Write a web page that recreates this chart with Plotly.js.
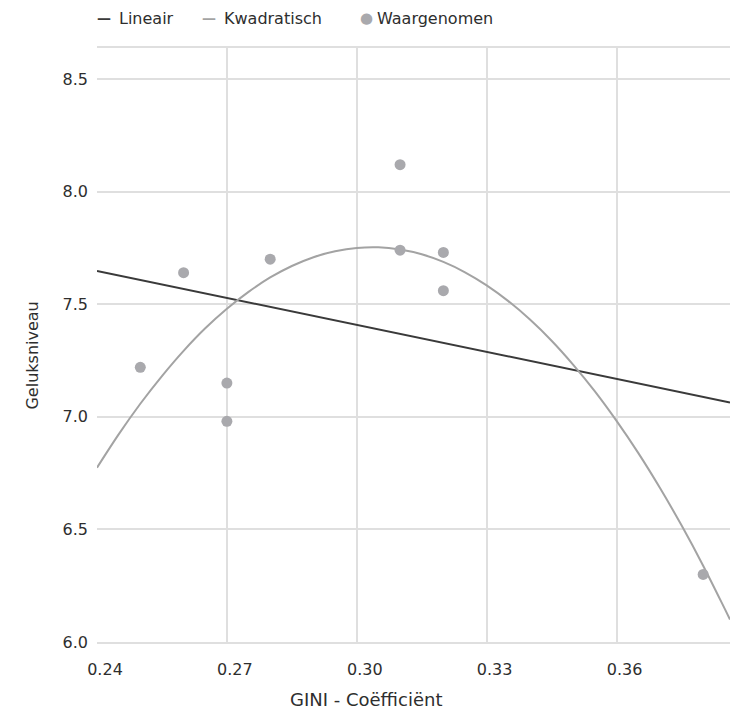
<!DOCTYPE html>
<html>
<head>
<meta charset="utf-8">
<script src="https://cdn.plot.ly/plotly-3.0.1.min.js"></script>
<style>html,body{margin:0;padding:0;background:#fff;}#chart{width:730px;height:709px;}</style>
</head>
<body>
<div id="chart"></div>
<script>
// Observed points
const giniObserved = [0.25, 0.26, 0.27, 0.27, 0.28, 0.31, 0.31, 0.32, 0.32, 0.38];
const happinessObserved = [7.22, 7.64, 7.15, 6.98, 7.70, 8.12, 7.74, 7.73, 7.56, 6.30];

// Linear trend line (read at the plot edges)
const linearX = [0.24, 0.3862];
const linearY = [7.648, 7.064];

// Quadratic trend curve
const quadX = [0.240, 0.245, 0.250, 0.255, 0.260, 0.265, 0.270, 0.275, 0.280, 0.285,
               0.290, 0.295, 0.300, 0.305, 0.310, 0.315, 0.320, 0.325, 0.330, 0.335,
               0.340, 0.345, 0.350, 0.355, 0.360, 0.365, 0.370, 0.375, 0.380, 0.385, 0.3862];
const quadY = [6.774, 6.922, 7.058, 7.181, 7.293, 7.393, 7.480, 7.555, 7.619, 7.670,
               7.709, 7.735, 7.750, 7.753, 7.743, 7.722, 7.688, 7.642, 7.584, 7.514,
               7.432, 7.338, 7.231, 7.113, 6.982, 6.840, 6.685, 6.518, 6.339, 6.147, 6.100];

const xTicks = [0.24, 0.27, 0.30, 0.33, 0.36];
const xTickText = ['0.24', '0.27', '0.30', '0.33', '0.36'];
const yTicks = [6.0, 6.5, 7.0, 7.5, 8.0, 8.5];
const yTickText = ['6.0', '6.5', '7.0', '7.5', '8.0', '8.5'];

const names = ['Lineair', 'Kwadratisch', 'Waargenomen'];
const xTitle = 'GINI - Coëfficiënt';
const yTitle = 'Geluksniveau';

const FONT = '"DejaVu Sans", "Noto Sans", sans-serif';
const GRID = '#dfdfdf';
const TEXT = '#2e2e2e';
const LIN_COLOR = '#3a3a3a';
const QUAD_COLOR = '#a3a3a3';
const DOT_COLOR = '#a9a9ad';

const traces = [
  {x: linearX, y: linearY, type: 'scatter', mode: 'lines', name: names[0], showlegend: false,
   line: {color: LIN_COLOR, width: 2}, hoverinfo: 'skip'},
  {x: quadX, y: quadY, type: 'scatter', mode: 'lines', name: names[1], showlegend: false,
   line: {color: QUAD_COLOR, width: 2, shape: 'spline'}, hoverinfo: 'skip'},
  {x: giniObserved, y: happinessObserved, type: 'scatter', mode: 'markers', name: names[2], showlegend: false,
   marker: {color: DOT_COLOR, size: 11}}
];

// Legend drawn as text entries above the plot
const legendY = 1.0505;
function legendItem(symbol, color, symSize, symX, label, labelX) {
  return [
    {text: symbol, xref: 'paper', yref: 'paper', x: symX, y: legendY, xanchor: 'left', yanchor: 'middle',
     showarrow: false, font: {family: FONT, size: symSize, color: color, weight: 700}},
    {text: label, xref: 'paper', yref: 'paper', x: labelX, y: legendY, xanchor: 'left', yanchor: 'middle',
     showarrow: false, font: {family: FONT, size: 16, color: TEXT}}
  ];
}
const px = v => (v - 97) / 633;
const legendAnns = [].concat(
  legendItem('—', LIN_COLOR, 14, px(95), names[0], px(117)),
  legendItem('—', QUAD_COLOR, 14, px(200), names[1], px(222)),
  legendItem('●', DOT_COLOR, 15, px(358), names[2], px(375))
);

const layout = {
  width: 730, height: 709,
  margin: {l: 97, r: 0, t: 48, b: 67, pad: 0},
  paper_bgcolor: '#ffffff', plot_bgcolor: '#ffffff',
  font: {family: FONT, size: 16, color: TEXT},
  showlegend: false,
  xaxis: {range: [0.24, 0.3862], tickmode: 'array', tickvals: xTicks, ticktext: xTickText,
          showgrid: true, gridcolor: GRID, gridwidth: 2, zeroline: false,
          showline: true, mirror: true, linecolor: GRID, linewidth: 2,
          ticks: '', ticklabelstandoff: 12, ticklabelshift: 8,
          tickfont: {family: FONT, size: 16, color: TEXT}},
  yaxis: {range: [6.0, 8.638], tickmode: 'array', tickvals: yTicks, ticktext: yTickText,
          showgrid: true, gridcolor: GRID, gridwidth: 2, zeroline: false,
          showline: false, ticks: '', ticklabelstandoff: 8,
          tickfont: {family: FONT, size: 16, color: TEXT}},
  annotations: [
    {text: xTitle, xref: 'paper', yref: 'paper', x: 0.425, y: -0.097, xanchor: 'center', yanchor: 'middle',
     showarrow: false, font: {family: FONT, size: 18, color: TEXT}},
    {text: yTitle, xref: 'paper', yref: 'paper', x: -0.102, y: 0.483, xanchor: 'center', yanchor: 'middle',
     textangle: -90, showarrow: false, font: {family: FONT, size: 16, color: TEXT}}
  ].concat(legendAnns)
};

Plotly.newPlot('chart', traces, layout, {displayModeBar: false, staticPlot: true});
</script>
</body>
</html>
